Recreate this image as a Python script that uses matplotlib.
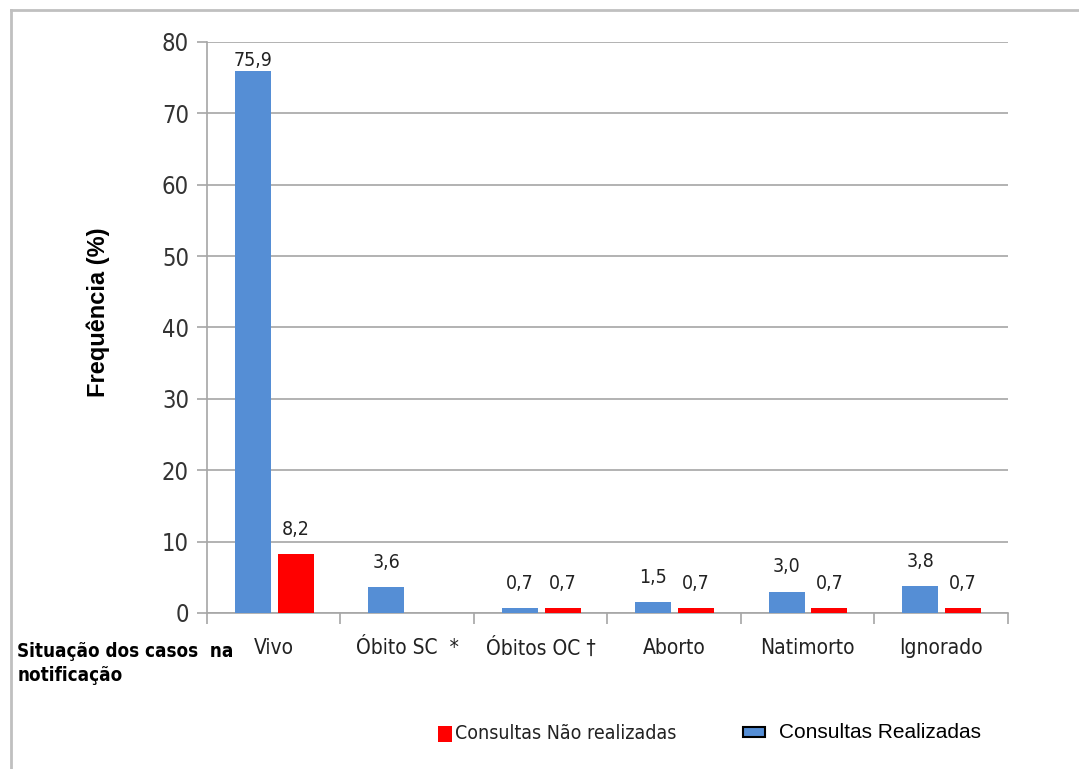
import numpy as np
import matplotlib
matplotlib.use('Agg')
import matplotlib.pyplot as plt
from matplotlib.patches import Rectangle
from matplotlib.lines import Line2D

categories = ['Vivo', 'Óbito SC  *', 'Óbitos OC †', 'Aborto', 'Natimorto', 'Ignorado']
realizadas = [75.9, 3.6, 0.7, 1.5, 3.0, 3.8]
nao_realizadas = [8.2, None, 0.7, 0.7, 0.7, 0.7]
yticks = [0, 10, 20, 30, 40, 50, 60, 70, 80]

blue = '#558ED5'
red = '#FF0000'
grid = '#A6A6A6'
narrow = dict(family='DejaVu Sans', stretch='condensed')
arial = ['Liberation Sans', 'DejaVu Sans']

fig = plt.figure(figsize=(10.79, 7.69), dpi=100)
ax = fig.add_axes([0.1918, 0.2029, 0.742, 0.7425])

x = np.arange(len(categories))
w = 0.27
ax.bar(x - 0.155, realizadas, w, color=blue, zorder=3)
red_vals = [v if v is not None else 0 for v in nao_realizadas]
ax.bar(x + 0.165, red_vals, w, color=red, zorder=3)

def fmt(v):
    return ('%.1f' % v).replace('.', ',')

for i, v in enumerate(realizadas):
    off = 1 if v > 70 else 11
    ax.annotate(fmt(v), (x[i] - 0.155, v), xytext=(0, off), textcoords='offset points',
                ha='center', va='bottom', fontsize=14, color='#222222', **narrow)
for i, v in enumerate(nao_realizadas):
    if v is None:
        continue
    ax.annotate(fmt(v), (x[i] + 0.165, v), xytext=(0, 11), textcoords='offset points',
                ha='center', va='bottom', fontsize=14, color='#222222', **narrow)

ax.set_xlim(-0.5, len(categories) - 0.5)
ax.set_ylim(0, 80)
ax.set_yticks(yticks)
ax.set_yticklabels([str(t) for t in yticks], fontsize=17, color='#333333', **narrow)
ax.yaxis.grid(True, color=grid, linewidth=1.2, zorder=0)
ax.tick_params(axis='y', length=7, color=grid, width=1.2, pad=6)

ax.set_xticks(x)
ax.set_xticklabels(categories, fontsize=15, color='#222222', **narrow)
ax.set_xticks(np.arange(len(categories) + 1) - 0.5, minor=True)
ax.tick_params(axis='x', which='major', length=0, pad=18)
ax.tick_params(axis='x', which='minor', length=8, color=grid, width=1.2)

for s in ['top', 'right']:
    ax.spines[s].set_visible(False)
for s in ['left', 'bottom']:
    ax.spines[s].set_color(grid)
    ax.spines[s].set_linewidth(1.2)

fig.text(0.091, 0.594, 'Frequência (%)', rotation=90, ha='center', va='center',
         fontsize=17, fontweight='bold', family=arial)
fig.text(0.016, 0.137, 'Situação dos casos  na\nnotificação', ha='left', va='center',
         fontsize=13.5, fontweight='bold', linespacing=1.35, **narrow)

# legend
fig.add_artist(Rectangle((0.406, 0.035), 0.013, 0.021, transform=fig.transFigure,
                         facecolor=red, edgecolor='none'))
fig.text(0.422, 0.046, 'Consultas Não realizadas', ha='left', va='center',
         fontsize=14, color='#222222', **narrow)
fig.add_artist(Rectangle((0.689, 0.042), 0.020, 0.013, transform=fig.transFigure,
                         facecolor=blue, edgecolor='black', linewidth=1.5))
fig.text(0.722, 0.048, 'Consultas Realizadas', ha='left', va='center',
         fontsize=15, family=arial, color='black')

# outer frame
fig.add_artist(Line2D([0.0105, 0.0105], [0, 0.987], transform=fig.transFigure,
                      color='#C0C0C0', linewidth=2))
fig.add_artist(Line2D([0.0105, 1.0], [0.987, 0.987], transform=fig.transFigure,
                      color='#C0C0C0', linewidth=2))

fig.savefig('out.png', dpi=100)
